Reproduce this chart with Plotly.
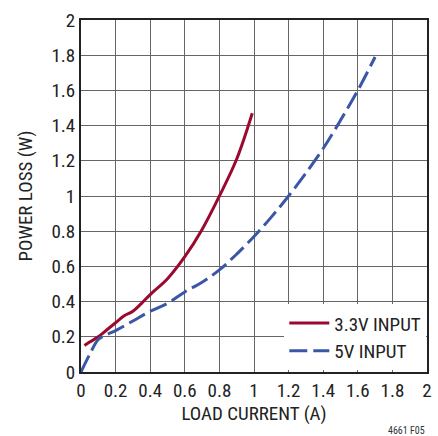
import plotly.graph_objects as go

x_33 = [0.02, 0.05, 0.1, 0.15, 0.2, 0.25, 0.3, 0.35, 0.4, 0.5, 0.6, 0.7, 0.8, 0.9, 0.99]
y_33 = [0.15, 0.17, 0.20, 0.24, 0.28, 0.32, 0.345, 0.39, 0.44, 0.53, 0.655, 0.81, 1.0, 1.21, 1.47]
x_5 = [0.0, 0.05, 0.1, 0.15, 0.2, 0.3, 0.4, 0.5, 0.6, 0.7, 0.8, 0.9, 1.0, 1.1, 1.2, 1.3, 1.4, 1.5, 1.6, 1.7]
y_5 = [0.0, 0.10, 0.185, 0.213, 0.235, 0.29, 0.345, 0.39, 0.455, 0.51, 0.58, 0.67, 0.77, 0.88, 1.0, 1.13, 1.27, 1.43, 1.60, 1.79]
ticks = [0, 0.2, 0.4, 0.6, 0.8, 1, 1.2, 1.4, 1.6, 1.8, 2]
tick_text = ["0", "0.2", "0.4", "0.6", "0.8", "1", "1.2", "1.4", "1.6", "1.8", "2"]

FONT = "Liberation Sans Narrow, Arial Narrow, Roboto Condensed, sans-serif"

fig = go.Figure()
fig.add_trace(go.Scatter(x=x_33, y=y_33, mode="lines", name="3.3V INPUT",
                         line=dict(color="#9b0a2e", width=3, shape="spline")))
fig.add_trace(go.Scatter(x=x_5, y=y_5, mode="lines", name="5V INPUT",
                         line=dict(color="#3a56a6", width=3, shape="spline", dash="18px,6px")))

axis_common = dict(range=[0, 2], tickvals=ticks, ticktext=tick_text, showgrid=True,
                   gridcolor="#666666", gridwidth=1.3, zeroline=False, showline=True,
                   linecolor="#222222", linewidth=2, mirror=True, ticks="",
                   tickfont=dict(family=FONT, size=19, color="#222222"))

fig.update_xaxes(**axis_common, title=dict(text="LOAD CURRENT (A)", font=dict(family=FONT, size=19, color="#222222"), standoff=6))
fig.update_yaxes(**axis_common, title=dict(text="POWER LOSS (W)", font=dict(family=FONT, size=19, color="#222222"), standoff=14))

fig.update_layout(
    width=438, height=436,
    margin=dict(l=81, r=6, t=20, b=64),
    plot_bgcolor="white", paper_bgcolor="white",
    showlegend=True,
    legend=dict(x=0.998, y=0.005, xanchor="right", yanchor="bottom",
                bgcolor="white", font=dict(family=FONT, size=19, color="#222222"),
                itemwidth=40, tracegroupgap=0),
    annotations=[dict(text="4661 F05", x=1.0, y=-0.145, xref="paper", yref="paper",
                      xanchor="right", yanchor="top", showarrow=False,
                      font=dict(family=FONT, size=10, color="#333333"))],
)

fig.write_html("out.html")
